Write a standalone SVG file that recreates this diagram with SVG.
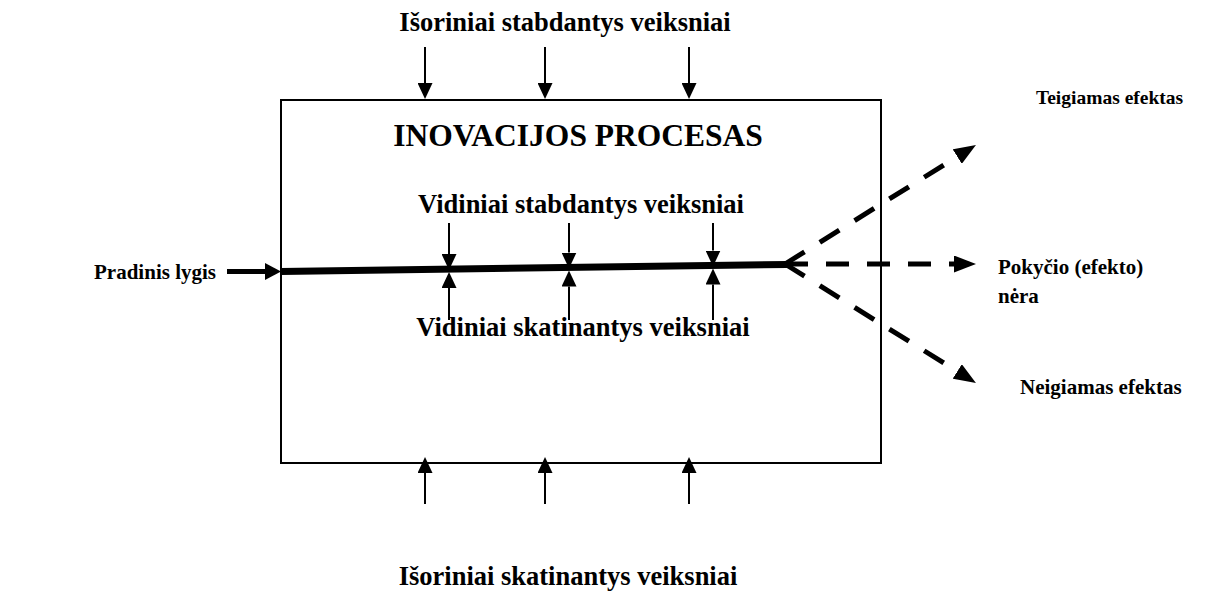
<svg xmlns="http://www.w3.org/2000/svg" width="1207" height="599" viewBox="0 0 1207 599">
  <style>
    text { font-family: "Liberation Serif", "Times New Roman", serif; font-weight: bold; fill: #000; }
    .lbl { font-size: 26.5px; }
    .side { font-size: 21px; }
    .small { font-size: 19.5px; }
    .title { font-size: 31.5px; }
    .thin { stroke: #000; stroke-width: 2; fill: none; marker-end: url(#head); }
    .dash { stroke: #000; stroke-width: 5; fill: none; stroke-dasharray: 23 18; marker-end: url(#dhead); }
  </style>
  <defs>
    <marker id="head" viewBox="0 0 16 15" refX="0" refY="7.5" markerWidth="16" markerHeight="15" markerUnits="userSpaceOnUse" orient="auto">
      <path d="M0,0 L16,7.5 L0,15 z" fill="#000"/>
    </marker>
    <marker id="thead" viewBox="0 0 16 17" refX="0" refY="8.5" markerWidth="16" markerHeight="17" markerUnits="userSpaceOnUse" orient="auto">
      <path d="M0,0 L16,8.5 L0,17 z" fill="#000"/>
    </marker>
    <marker id="dhead" viewBox="0 0 22 17" refX="0" refY="8.5" markerWidth="22" markerHeight="17" markerUnits="userSpaceOnUse" orient="auto">
      <path d="M0,0 L22,8.5 L0,17 z" fill="#000"/>
    </marker>
  </defs>

  <g id="process">
    <rect x="281" y="100" width="600" height="363" fill="none" stroke="#000" stroke-width="2"/>
    <text class="title" x="578" y="146" text-anchor="middle">INOVACIJOS PROCESAS</text>
  </g>

  <g id="external-inhibitors">
    <text class="lbl" x="565" y="31" text-anchor="middle">Išoriniai stabdantys veiksniai</text>
  </g>
  <g id="external-drivers">
    <text class="lbl" x="568" y="585" text-anchor="middle">Išoriniai skatinantys veiksniai</text>
  </g>
  <g id="internal-inhibitors">
    <text class="lbl" x="581" y="213" text-anchor="middle">Vidiniai stabdantys veiksniai</text>
  </g>
  <g id="internal-drivers">
    <text class="lbl" x="583" y="336" text-anchor="middle">Vidiniai skatinantys veiksniai</text>
  </g>
  <g id="start">
    <text class="side" x="216" y="279" text-anchor="end">Pradinis lygis</text>
  </g>
  <g id="positive">
    <text class="small" x="1036" y="104">Teigiamas efektas</text>
  </g>
  <g id="no-change">
    <text class="side" x="998" y="274">Pokyčio (efekto)</text>
    <text class="side" x="998" y="303">nėra</text>
  </g>
  <g id="negative">
    <text class="side" x="1020" y="394">Neigiamas efektas</text>
  </g>

  <g id="connectors">
    <!-- external factors acting on the box -->
    <line class="thin" x1="425" y1="47" x2="425" y2="83"/>
    <line class="thin" x1="545" y1="47" x2="545" y2="83"/>
    <line class="thin" x1="689" y1="47" x2="689" y2="83"/>
    <line class="thin" x1="425" y1="504" x2="425" y2="473"/>
    <line class="thin" x1="545" y1="504" x2="545" y2="473"/>
    <line class="thin" x1="689" y1="504" x2="689" y2="473"/>

    <!-- input and main process line -->
    <line x1="227" y1="271.5" x2="265" y2="271.5" stroke="#000" stroke-width="5" marker-end="url(#thead)"/>
    <line x1="281" y1="271.5" x2="787" y2="264.5" stroke="#000" stroke-width="7"/>

    <!-- internal factors acting on the line -->
    <line class="thin" x1="449" y1="223" x2="449" y2="254"/>
    <line class="thin" x1="569" y1="223" x2="569" y2="252.5"/>
    <line class="thin" x1="713" y1="223" x2="713" y2="250.5"/>
    <line class="thin" x1="449" y1="320" x2="449" y2="288"/>
    <line class="thin" x1="569" y1="320" x2="569" y2="286.5"/>
    <line class="thin" x1="713" y1="320" x2="713" y2="284.5"/>

    <!-- possible outcomes -->
    <line class="dash" x1="785" y1="264" x2="957.3" y2="156.6"/>
    <line class="dash" x1="785" y1="264" x2="954" y2="264"/>
    <line class="dash" x1="785" y1="264" x2="957.3" y2="371.4"/>
  </g>
</svg>
